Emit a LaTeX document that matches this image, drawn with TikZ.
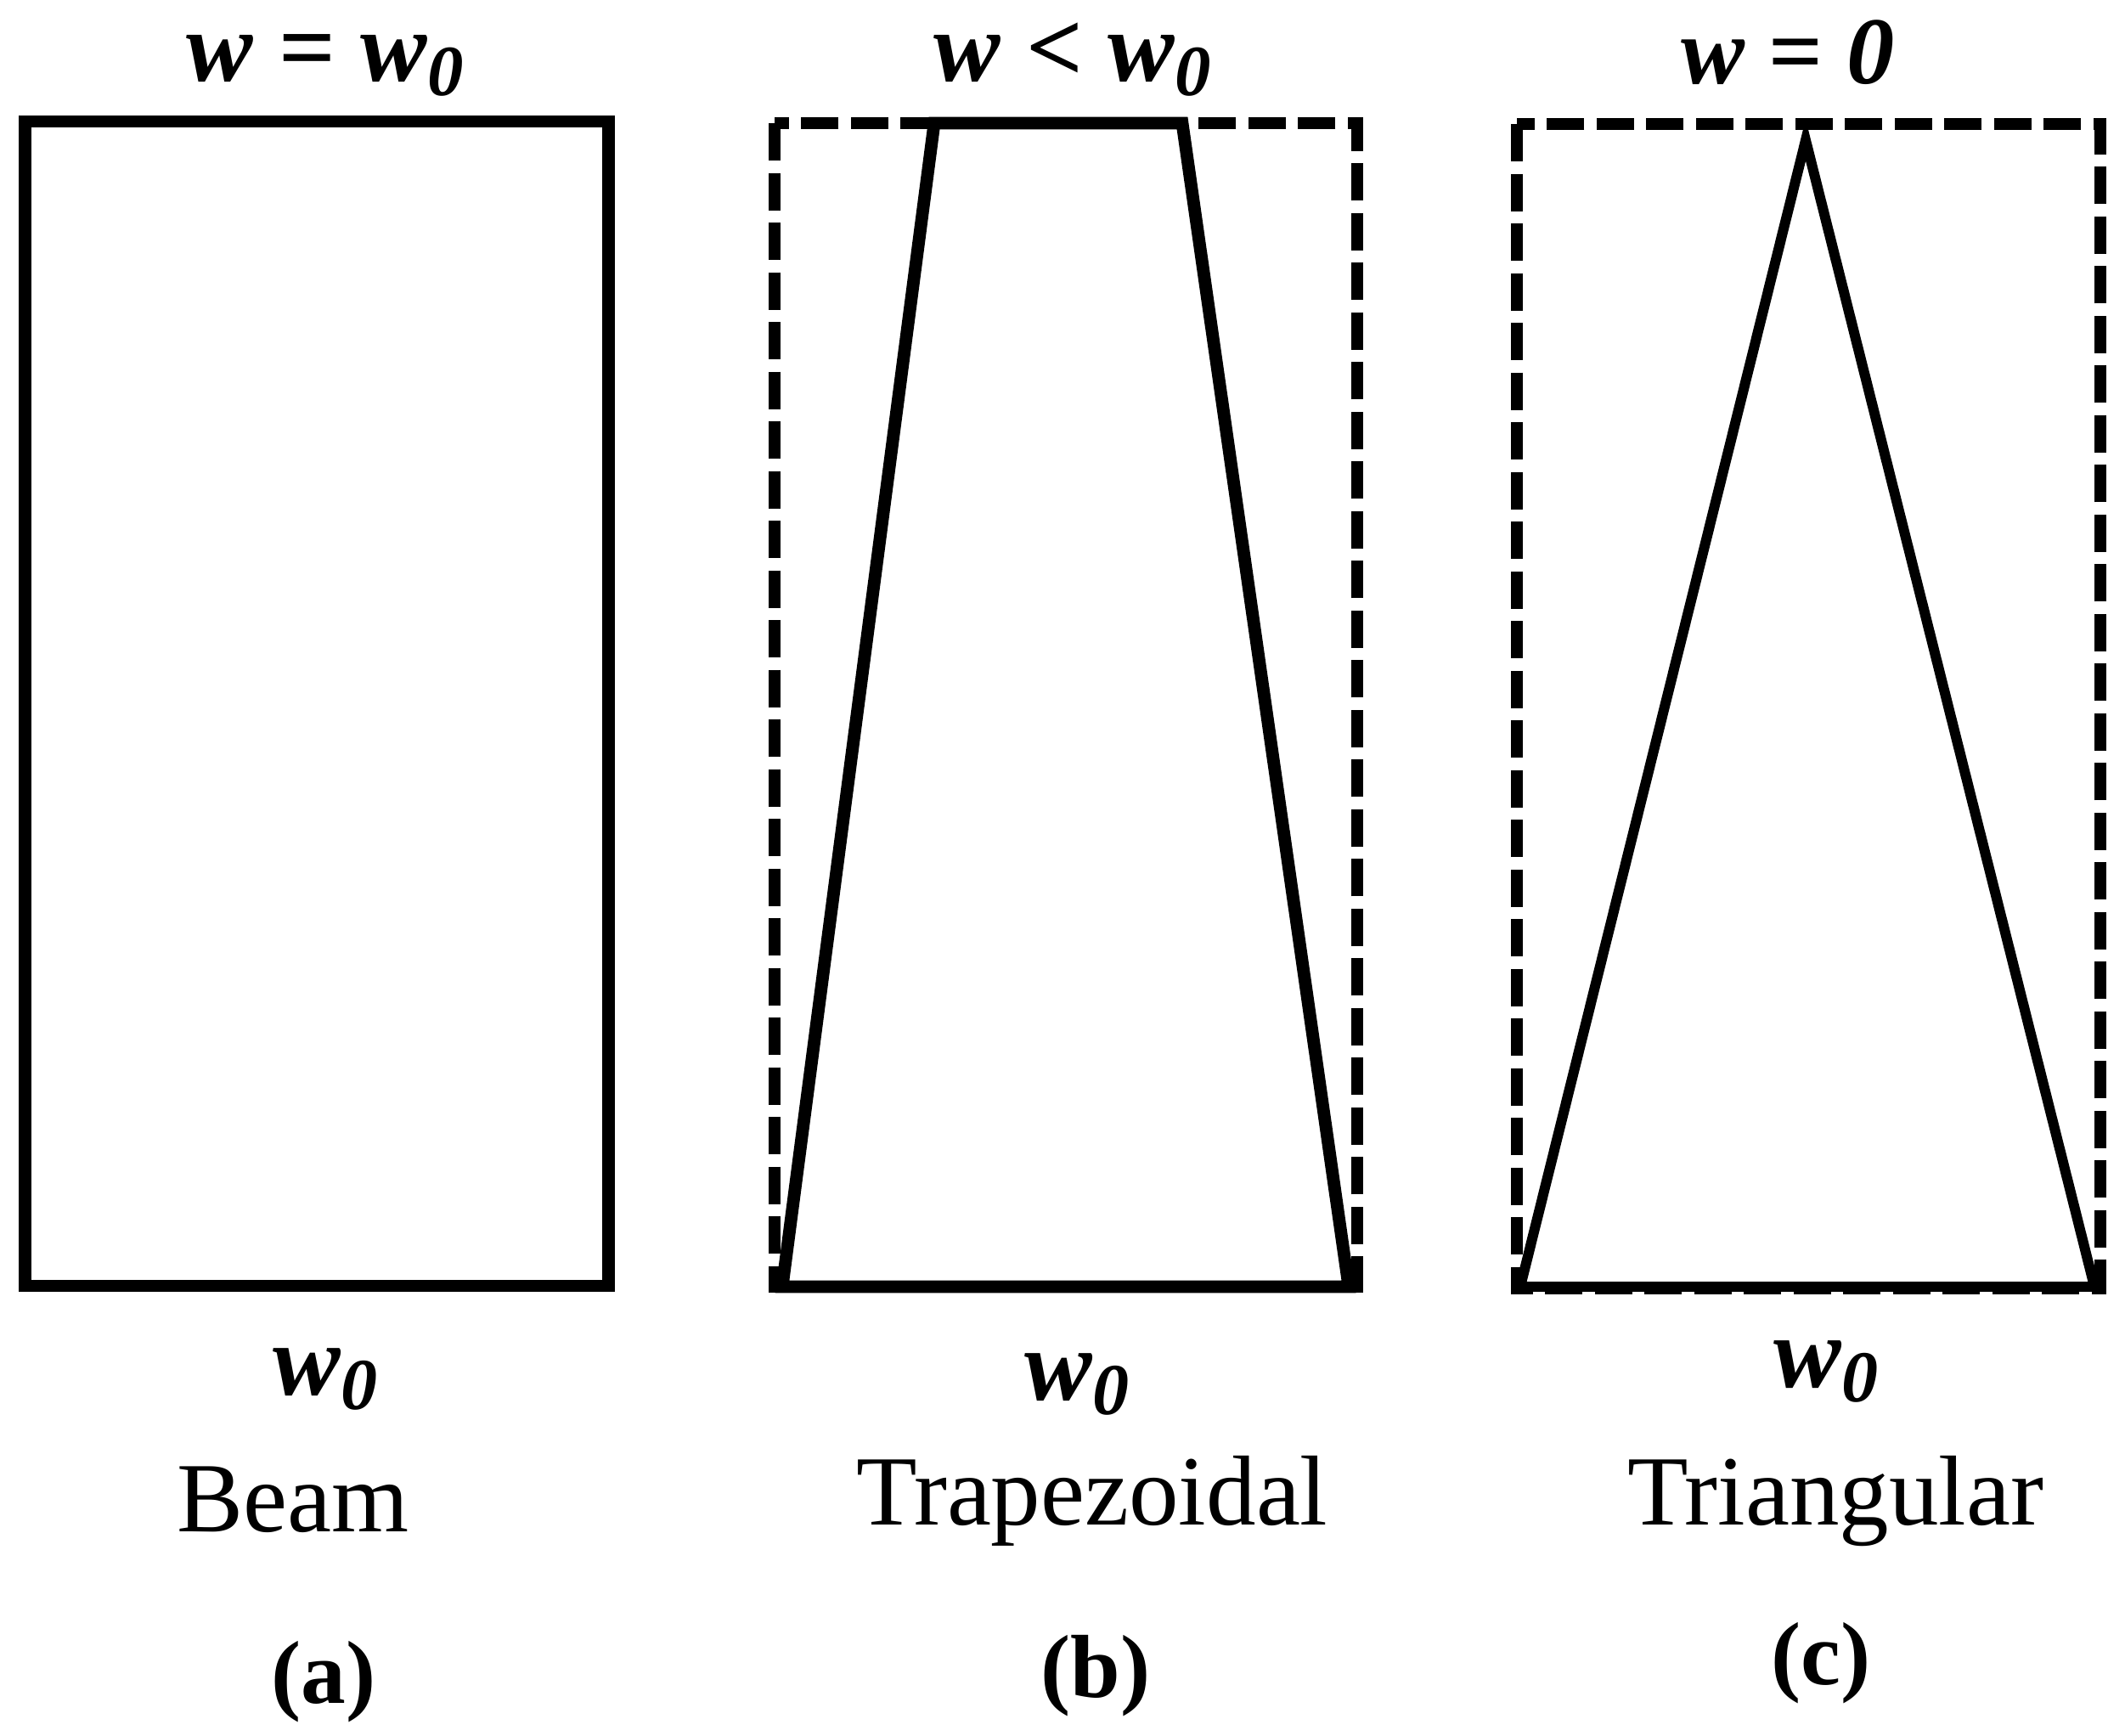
\documentclass[tikz,border=0pt]{standalone}
\usepackage{fontspec}
\setmainfont{Liberation Serif}
\usepackage{graphicx}
\newcommand{\wz}{\textit{w}\raisebox{-0.32ex}{\scalebox{0.72}{\textit{0}}}}
\tikzset{shapeline/.style={line width=4.2pt}}
\tikzset{guideline/.style={line width=3.8pt,dash pattern=on 0.44cm off 0.145cm}}
\tikzset{toplabel/.style={anchor=base,inner sep=0pt,font=\fontsize{33.5}{38}\selectfont\bfseries}}
\tikzset{widthlabel/.style={anchor=base,inner sep=0pt,font=\fontsize{34}{40}\selectfont\bfseries}}
\tikzset{namelabel/.style={anchor=base,inner sep=0pt,font=\fontsize{33.3}{38}\selectfont}}
\tikzset{panellabel/.style={anchor=base,inner sep=0pt,font=\fontsize{30}{36}\selectfont\bfseries}}

\begin{document}
\begin{tikzpicture}
	\useasboundingbox (0,0) rectangle (25.02,-20.43);

	% (a) beam
	\draw[shapeline] (0.295,-1.43) rectangle (7.165,-15.14);

	% (b) trapezoidal
	\draw[guideline] (9.12,-1.45) rectangle (15.98,-15.15);
	\draw[shapeline] (9.21,-15.15) -- (11.00,-1.45) -- (13.92,-1.45) -- (15.88,-15.15) -- cycle;

	% (c) triangular
	\draw[guideline] (17.86,-1.46) rectangle (24.73,-15.17);
	\draw[shapeline,line width=3.4pt] (17.90,-15.15) -- (21.26,-1.65) -- (24.66,-15.15) -- cycle;

	\node[toplabel] (topa) at (3.83,-0.95) {\textit{w} = \wz};
	\node[toplabel] (topb) at (12.63,-0.95) {\textit{w} < \wz};
	\node[toplabel,font=\fontsize{32}{38}\selectfont\bfseries] (topc) at (21.05,-0.98) {\textit{w} = \textit{0}};

	\node[widthlabel] (wa) at (3.83,-16.42) {\wz};
	\node[widthlabel] (wb) at (12.68,-16.48) {\wz};
	\node[widthlabel] (wc) at (21.50,-16.33) {\wz};

	\node[namelabel] (namea) at (3.45,-18.03) {Beam};
	\node[namelabel] (nameb) at (12.86,-17.95) {Trapezoidal};
	\node[namelabel] (namec) at (21.61,-17.95) {Triangular};

	\node[panellabel] (pa) at (3.81,-20.05) {(a)};
	\node[panellabel] (pb) at (12.90,-19.98) {(b)};
	\node[panellabel] (pc) at (21.44,-19.83) {(c)};
\end{tikzpicture}
\end{document}
